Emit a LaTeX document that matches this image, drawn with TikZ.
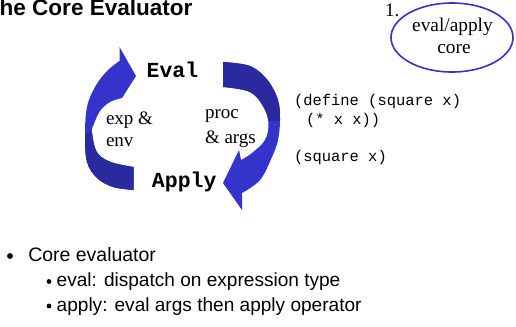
\documentclass[tikz,border=0pt]{standalone}
\usepackage{fontspec}
\setmainfont{Liberation Serif}
\setsansfont{Liberation Sans}
\setmonofont{Liberation Mono}
\usetikzlibrary{shapes.geometric}
\definecolor{ribbon}{RGB}{52,52,204}
\definecolor{ribbonback}{RGB}{42,42,158}
\begin{document}
\begin{tikzpicture}[x=0.75pt,y=-0.75pt,
  txt/.style={inner sep=0pt, outer sep=0pt},
  headline/.style={txt, anchor=base east, font=\sffamily\bfseries\fontsize{16.9}{19}\selectfont},
  stage/.style={txt, anchor=base, font=\ttfamily\bfseries\fontsize{16.1}{19}\selectfont},
  flowlabel/.style={txt, anchor=base west, font=\fontsize{14.25}{17}\selectfont},
  codeline/.style={txt, anchor=base west, font=\ttfamily\fontsize{11.6}{14}\selectfont},
  bulletline/.style={txt, anchor=base west, font=\sffamily\fontsize{14.3}{17}\selectfont},
  mark dot/.style={fill=black}]
\useasboundingbox (0,0) rectangle (516,326);
\clip (0,0) rectangle (516,326);

% title, its first letter runs past the left edge
\node[headline] (title) at (192.5,15.5) {The Core Evaluator};

% left ribbon arrow: tail at the bottom, head pointing right at the top
\def\leftribbon{(133.5,190) -- plot[smooth, tension=0.6] coordinates
    {(133.5,190) (113,187) (97,178) (87,162) (85,135) (87,107) (95,87) (107,71) (119.5,61)}
  -- (119.5,47) -- (136,76) -- (122,98)
  -- plot[smooth, tension=0.6] coordinates
    {(122,98) (110,102) (100,111) (93.5,125) (92,132) (96.7,151.7) (110,161.7) (133.5,167)}
  -- cycle}
\fill[ribbon] \leftribbon;
\begin{scope}
  \clip \leftribbon;
  \fill[ribbonback] (75,133) rectangle (145,200);
\end{scope}

% right ribbon arrow: tail at the top, head pointing left at the bottom
\def\rightribbon{(223,62) -- plot[smooth, tension=0.6] coordinates
    {(223,62) (250,66) (267.5,80) (278,100) (280,120) (278,140) (272,157) (260,180) (242,193)}
  -- (242,210) -- (223,183) -- (239,150) -- (241,160)
  -- plot[smooth, tension=0.6] coordinates
    {(241,160) (252,153) (265,140) (268.5,123) (263.5,107) (250,92) (223,87)}
  -- cycle}
\fill[ribbon] \rightribbon;
\begin{scope}
  \clip \rightribbon;
  \fill[ribbonback] (215,55) rectangle (290,121);
\end{scope}

% stage names
\node[stage] (eval) at (172.5,77) {Eval};
\node[stage] (apply) at (184.2,187.5) {Apply};

% what passes between the stages
\node[flowlabel] (exp) at (106,124) {exp \&};
\node[flowlabel] (env) at (106,146.7) {env};
\node[flowlabel] (proc) at (205,118) {proc};
\node[flowlabel] (args) at (205,143) {\& args};

% sample code
\node[codeline] (def1) at (294,105) {(define (square x)};
\node[codeline] (def2) at (306,124.5) {(* x x))};
\node[codeline] (call) at (294,161) {(square x)};

% numbered callout
\node[txt, anchor=base west, font=\fontsize{14.25}{17}\selectfont] (num) at (385,16) {1.};
\node[draw=ribbon, line width=1.2pt, ellipse, inner sep=0pt,
      minimum width=91.5pt, minimum height=51.75pt] (core) at (452,37.5) {};
\node[txt, anchor=base, font=\fontsize{14.5}{17}\selectfont] (coretop) at (452.5,31) {eval/apply};
\node[txt, anchor=base, font=\fontsize{14.5}{17}\selectfont] (corebot) at (454,53.3) {core};

% bullet list
\fill[mark dot] (10,256) circle [radius=2.2pt];
\node[bulletline, font=\sffamily\fontsize{14.6}{17}\selectfont] (b1) at (28.3,261.7) {Core evaluator};
\fill[mark dot] (49,281.5) circle [radius=1.8pt];
\node[bulletline] (b2) at (56.7,286.7) {eval: dispatch on expression type};
\fill[mark dot] (49,306) circle [radius=1.8pt];
\node[bulletline] (b3) at (56.7,311.2) {apply: eval args then apply operator};
\end{tikzpicture}
\end{document}
